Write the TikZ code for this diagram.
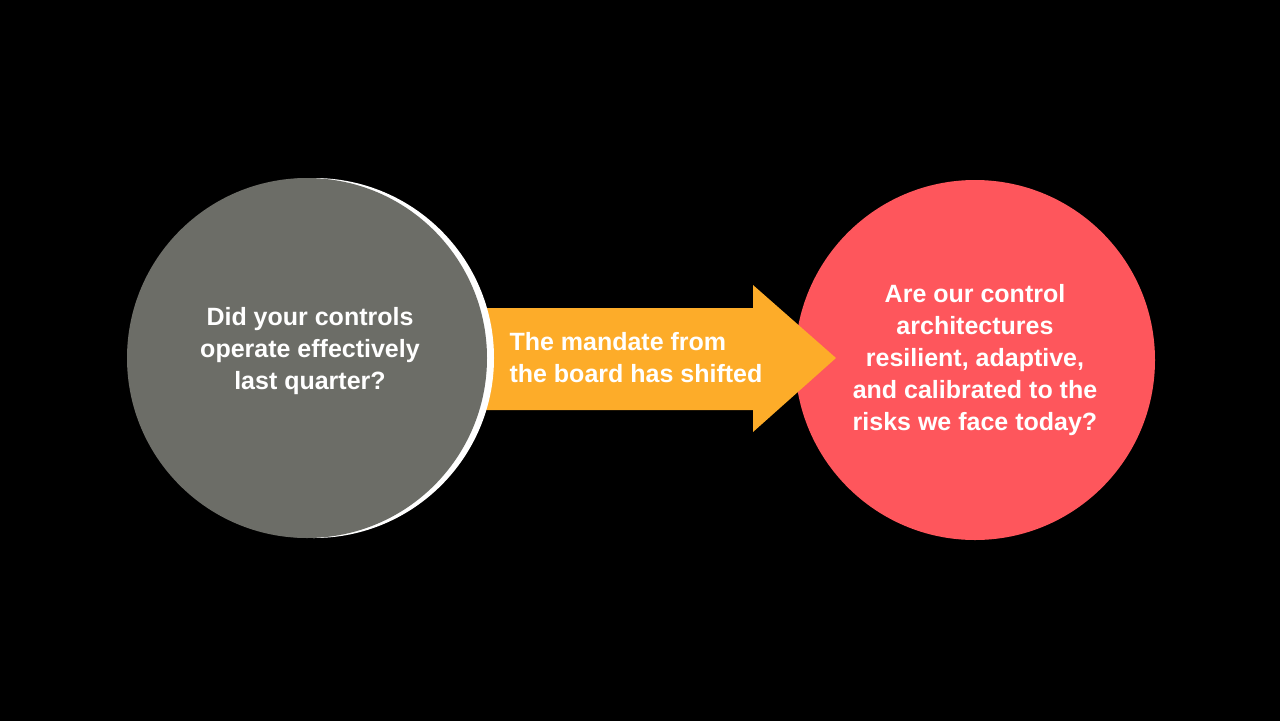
\documentclass[tikz,border=0pt]{standalone}
\usepackage{fontspec}
\setmainfont{Liberation Sans}
\usetikzlibrary{positioning}
\definecolor{slate}{RGB}{108,109,103}
\definecolor{mango}{RGB}{253,172,41}
\definecolor{coral}{RGB}{254,86,92}
\tikzset{
  bubble/.style={circle,minimum size=360pt,inner sep=0pt,align=center,
    text=white,font=\bfseries\fontsize{25}{32}\selectfont},
}
\begin{document}
\begin{tikzpicture}[y=1pt, x=1pt, yscale=-1]
  % background
  \fill[black] (0,0) rectangle (1280,721);
  \useasboundingbox (0,0) rectangle (1280,721);
  % right circle
  \node[bubble,fill=coral] (after) at (975,360)
    {Are our control\\architectures\\resilient, adaptive,\\and calibrated to the\\risks we face today?};
  % arrow
  \fill[mango] (475,308) -- (753,308) -- (753,285) -- (836,358)
    -- (753,432) -- (753,410) -- (475,410) -- cycle;
  \node[align=left,text=white,font=\bfseries\fontsize{25}{32}\selectfont,anchor=west]
    (mandate) at (506,358) {The mandate from\\the board has shifted};
  % left circle with white rim
  \fill[white] (314,358) circle (180);
  \node[bubble,fill=slate] (before) at (307,358) {};
  \node[align=center,text=white,font=\bfseries\fontsize{25}{32}\selectfont]
    (beforetext) at (310,351) {Did your controls\\operate effectively\\last quarter?};
\end{tikzpicture}
\end{document}
